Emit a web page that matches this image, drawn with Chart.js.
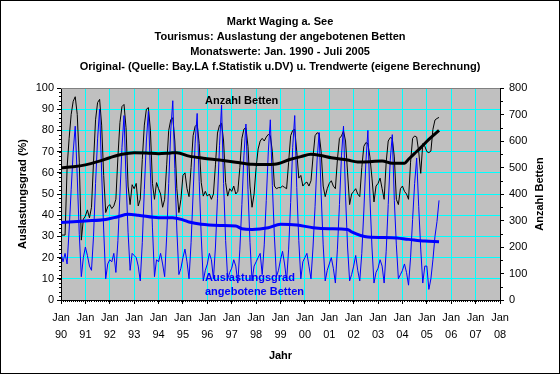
<!DOCTYPE html>
<html>
<head>
<meta charset="utf-8">
<script src="https://cdn.jsdelivr.net/npm/chart.js@4.4.0/dist/chart.umd.min.js"></script>
<style>
  html, body { margin: 0; padding: 0; background: #fff; }
  #wrap { width: 560px; height: 374px; }
</style>
</head>
<body>
<div id="wrap"><canvas id="mycanvas"></canvas></div>
<script>
// tick labels of the x axis (Jan of each year)
var yearLabels = ['90','91','92','93','94','95','96','97','98','99','00','01','02','03','04','05','06','07','08'];

// monthly values Jan 1990 - Jul 2005
var bedsRaw = [
	245, 245, 245, 500, 610, 700, 750, 767, 700, 520, 226, 305,
	317, 340, 310, 350, 520, 680, 745, 757, 660, 470, 330, 352,
	360, 345, 355, 380, 540, 670, 730, 738, 650, 430, 360, 435,
	420, 440, 355, 380, 530, 660, 720, 726, 640, 440, 380, 443,
	420, 400, 350, 380, 510, 640, 680, 688, 600, 420, 330, 380,
	470, 480, 420, 390, 500, 620, 655, 663, 590, 443, 392, 410,
	392, 400, 380, 400, 510, 630, 660, 667, 600, 443, 392, 420,
	410, 430, 400, 410, 500, 610, 645, 650, 580, 430, 350, 400,
	500, 570, 600, 610, 600, 615, 625, 620, 560, 430, 420, 424,
	424, 430, 425, 420, 520, 620, 640, 644, 560, 460, 470, 430,
	440, 445, 430, 450, 540, 620, 631, 628, 560, 430, 390, 420,
	440, 450, 430, 420, 530, 610, 619, 638, 600, 480, 360, 400,
	410, 420, 400, 390, 500, 580, 594, 590, 540, 460, 370, 430,
	440, 460, 420, 380, 520, 600, 613, 610, 540, 380, 360, 420,
	430, 410, 400, 380, 520, 610, 619, 615, 560, 478, 590, 580,
	560, 556, 562, 644, 679, 685, 689
];

var rateRaw = [
	22, 18, 22, 17, 33, 52, 70, 82, 58, 31, 11, 20,
	25, 21, 16, 14, 30, 55, 76, 90, 60, 33, 10, 17,
	19, 18, 22, 13, 28, 50, 72, 87, 57, 32, 14, 22,
	21, 20, 16, 9, 27, 52, 75, 89, 60, 34, 11, 19,
	18, 22, 17, 11, 30, 55, 80, 94, 62, 33, 12, 15,
	20, 24, 18, 10, 27, 50, 74, 88, 56, 30, 9, 14,
	17, 22, 19, 10, 25, 48, 73, 92, 55, 28, 10, 13,
	15, 19, 16, 8, 24, 45, 68, 83, 52, 27, 9, 16,
	18, 20, 22, 12, 26, 47, 70, 85, 54, 30, 11, 14,
	19, 23, 17, 9, 24, 46, 72, 87, 53, 28, 10, 18,
	20, 22, 16, 10, 25, 44, 66, 79, 50, 26, 9, 14,
	17, 20, 15, 8, 24, 45, 68, 82, 49, 25, 9, 12,
	16, 21, 14, 9, 22, 42, 65, 80, 48, 25, 8, 13,
	15, 19, 16, 8, 23, 45, 66, 78, 47, 26, 10, 12,
	14, 17, 13, 7, 20, 38, 55, 67, 44, 24, 8, 16,
	16, 5, 10, 19, 30, 37, 47
];

// trend values, read at these month indexes (0 = Jan 1990)
var bedsTrendMonths = [0, 6, 12, 18, 24, 30, 36, 42, 48, 54, 57, 63, 70, 78, 86, 94, 100, 105, 113, 118, 123, 128, 133, 141, 146, 152, 158, 163, 169, 171, 174, 177, 181, 186];
var bedsTrend = [499, 503, 510, 522, 537, 550, 556, 555, 552, 555, 556, 543, 535, 528, 520, 512, 511, 512, 531, 541, 550, 545, 537, 528, 521, 522, 525, 516, 516, 531, 553, 575, 606, 640];

var rateTrendMonths = [0, 12, 22, 28, 33, 38, 48, 55, 60, 63, 69, 78, 86, 89, 94, 102, 108, 116, 124, 132, 141, 143, 151, 163, 171, 179, 186];
var rateTrend = [36.5, 37.3, 38.0, 39.3, 40.4, 40.0, 38.8, 38.8, 37.8, 36.8, 35.7, 35.2, 34.9, 33.6, 33.3, 34.1, 35.7, 35.4, 34.1, 33.6, 33.3, 32.1, 29.7, 29.4, 28.6, 27.8, 27.5];

var FONT = '"Liberation Sans", Arial, sans-serif';

function toPoints(xs, ys) {
	var pts = [];
	for (var i in ys) {
		pts.push({ x: xs ? xs[i] : Number(i), y: ys[i] });
	}
	return pts;
}

var decor = {
	id: 'decor',
	beforeDraw: function(chart) {
		var ctx = chart.ctx, a = chart.chartArea;
		ctx.save();
		ctx.fillStyle = '#fff';
		ctx.fillRect(0, 0, chart.width, chart.height);
		ctx.fillStyle = '#C0C0C0';
		ctx.fillRect(a.left, a.top, a.right - a.left, a.bottom - a.top);
		ctx.restore();
	},
	afterDraw: function(chart) {
		var ctx = chart.ctx, a = chart.chartArea;
		var x = chart.scales.x, y = chart.scales.y, y1 = chart.scales.y1;
		ctx.save();

		// top edge of the plot
		ctx.strokeStyle = '#808080';
		ctx.lineWidth = 1;
		ctx.beginPath();
		ctx.moveTo(a.left, a.top + 0.5);
		ctx.lineTo(a.right, a.top + 0.5);
		ctx.stroke();

		// minor ticks
		ctx.strokeStyle = '#000';
		ctx.beginPath();
		for (var m = 0; m <= 216; m++) {
			var px = Math.round(x.getPixelForValue(m)) + 0.5;
			ctx.moveTo(px, a.bottom);
			ctx.lineTo(px, a.bottom + 2);
		}
		for (var v = 0; v <= 100; v += 2) {
			var py = Math.round(y.getPixelForValue(v)) + 0.5;
			ctx.moveTo(a.left - 2, py);
			ctx.lineTo(a.left, py);
		}
		for (var w = 50; w < 800; w += 100) {
			var py1 = Math.round(y1.getPixelForValue(w)) + 0.5;
			ctx.moveTo(a.right, py1);
			ctx.lineTo(a.right + 3, py1);
		}
		ctx.stroke();

		// outer frame
		ctx.strokeRect(0.5, 0.5, chart.width - 1, chart.height - 1);

		// title
		ctx.fillStyle = '#000';
		ctx.textAlign = 'center';
		ctx.textBaseline = 'middle';
		ctx.font = 'bold 11px ' + FONT;
		var title = [
			'Markt Waging a. See',
			'Tourismus: Auslastung der angebotenen Betten',
			'Monatswerte: Jan. 1990 - Juli 2005',
			'Original- (Quelle: Bay.LA f.Statistik u.DV) u. Trendwerte (eigene Berechnung)'
		];
		for (var i = 0; i < title.length; i++) {
			ctx.fillText(title[i], 280, 22 + i * 15);
		}

		// axis titles
		ctx.fillText('Jahr', (a.left + a.right) / 2, 356);
		var midY = (a.top + a.bottom) / 2;
		ctx.save();
		ctx.translate(23, midY);
		ctx.rotate(-Math.PI / 2);
		ctx.fillText('Auslastungsgrad (%)', 0, 0);
		ctx.restore();
		ctx.save();
		ctx.translate(540, midY);
		ctx.rotate(-Math.PI / 2);
		ctx.fillText('Anzahl Betten', 0, 0);
		ctx.restore();

		// series labels inside the plot
		ctx.textAlign = 'left';
		ctx.fillText('Anzahl Betten', 205, 101);
		ctx.fillStyle = '#0000FF';
		ctx.fillText('Auslastungsgrad', 205, 278);
		ctx.fillText('angebotene Betten', 205, 292);
		ctx.restore();
	}
};

var chartdata = {
	datasets: [
		{
			label: 'Trend Auslastungsgrad',
			data: toPoints(rateTrendMonths, rateTrend),
			yAxisID: 'y',
			borderColor: '#0000FF',
			borderWidth: 3,
			pointRadius: 0,
			cubicInterpolationMode: 'monotone'
		},
		{
			label: 'Trend Anzahl Betten',
			data: toPoints(bedsTrendMonths, bedsTrend),
			yAxisID: 'y1',
			borderColor: '#000000',
			borderWidth: 3,
			pointRadius: 0,
			cubicInterpolationMode: 'monotone'
		},
		{
			label: 'Auslastungsgrad',
			data: toPoints(null, rateRaw),
			yAxisID: 'y',
			borderColor: '#0000FF',
			borderWidth: 1,
			pointRadius: 0,
			lineTension: 0
		},
		{
			label: 'Anzahl Betten',
			data: toPoints(null, bedsRaw),
			yAxisID: 'y1',
			borderColor: '#000000',
			borderWidth: 1,
			pointRadius: 0,
			lineTension: 0
		}
	]
};

var tickFont = { family: FONT, size: 11, lineHeight: 1.5 };

var lineChart = new Chart(document.getElementById('mycanvas'), {
	type: 'line',
	data: chartdata,
	plugins: [decor],
	options: {
		responsive: true,
		maintainAspectRatio: false,
		devicePixelRatio: 1,
		animation: false,
		events: [],
		layout: { padding: { top: 88, left: 0, right: 0, bottom: 0 } },
		plugins: {
			legend: { display: false },
			title: { display: false },
			tooltip: { enabled: false }
		},
		scales: {
			x: {
				type: 'linear',
				min: 0,
				max: 216,
				ticks: {
					stepSize: 12,
					autoSkip: false,
					maxRotation: 0,
					padding: 6,
					color: '#000',
					font: tickFont,
					callback: function(v) { return ['Jan', yearLabels[Math.round(v / 12)]]; }
				},
				grid: { color: '#00FFFF', lineWidth: 1, tickLength: 4, tickColor: '#000' },
				border: { color: '#000', width: 1 },
				afterFit: function(s) { s.height = 74; }
			},
			y: {
				position: 'left',
				min: 0,
				max: 100,
				ticks: { stepSize: 10, padding: 3, color: '#000', font: tickFont },
				grid: { color: '#00FFFF', lineWidth: 1, tickLength: 4, tickColor: '#000' },
				border: { color: '#000', width: 1 },
				afterFit: function(s) { s.width = 61; }
			},
			y1: {
				position: 'right',
				min: 0,
				max: 800,
				ticks: { stepSize: 100, padding: 5, color: '#000', font: tickFont },
				grid: { drawOnChartArea: false, tickLength: 4, tickColor: '#000' },
				border: { color: '#000', width: 1 },
				afterFit: function(s) { s.width = 60; }
			}
		}
	}
});
</script>
</body>
</html>
